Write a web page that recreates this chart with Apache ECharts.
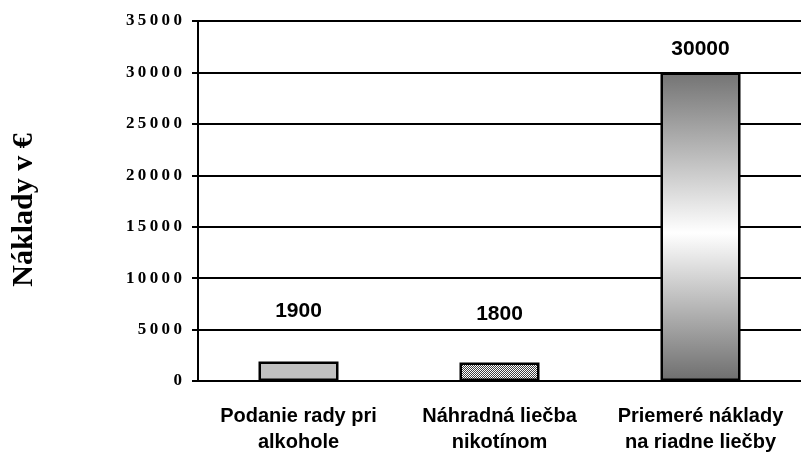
<!DOCTYPE html>
<html>
<head>
<meta charset="utf-8">
<script src="https://cdn.jsdelivr.net/npm/echarts@6/dist/echarts.min.js"></script>
<style>
  html, body { margin: 0; padding: 0; background: #fff; }
  #chart { width: 801px; height: 459px; }
</style>
</head>
<body>
<div id="chart"></div>
<script>
// data
var categories = ['Podanie rady pri\nalkohole', 'Náhradná liečba\nnikotínom', 'Priemeré náklady\nna riadne liečby'];
var costs = [1900, 1800, 30000];
var yTicks = [0, 5000, 10000, 15000, 20000, 25000, 30000, 35000];

// hatch fill for the second bar
function makeHatch() {
    var c = document.createElement('canvas');
    c.width = 4; c.height = 4;
    var ctx = c.getContext('2d');
    ctx.fillStyle = '#ffffff';
    ctx.fillRect(0, 0, 4, 4);
    ctx.fillStyle = '#404040';
    for (var i = 0; i < 4; i++) {
        ctx.fillRect(i, 3 - i, 1, 1);
        ctx.fillRect((i + 2) % 4, 3 - i, 1, 1);
    }
    return c;
}

var fills = [
    '#c0c0c0',
    { image: makeHatch(), repeat: 'repeat' },
    new echarts.graphic.LinearGradient(0, 0, 0, 1, [
        { offset: 0, color: '#737373' },
        { offset: 0.52, color: '#ffffff' },
        { offset: 1, color: '#6e6e6e' }
    ])
];
var labelGap = [40, 38, 13];

var barData = costs.map(function (v, i) {
    return {
        value: v,
        itemStyle: { color: fills[i] },
        label: { distance: labelGap[i] }
    };
});

var myChart = echarts.init(document.getElementById('chart'));
var option = {
    animation: false,
    grid: { left: 198, right: 0, top: 21, bottom: 78, containLabel: false, outerBoundsMode: 'none' },
    xAxis: {
        type: 'category',
        data: categories,
        axisLine: { lineStyle: { color: '#000', width: 2 } },
        axisTick: { show: false },
        axisLabel: {
            margin: 22,
            color: '#000',
            fontFamily: 'Liberation Sans, Arial, sans-serif',
            fontWeight: 'bold',
            fontSize: 20,
            lineHeight: 26,
            interval: 0
        }
    },
    yAxis: {
        type: 'value',
        min: yTicks[0],
        max: yTicks[yTicks.length - 1],
        interval: 5000,
        name: 'Náklady v €',
        nameLocation: 'middle',
        nameGap: 159,
        nameTextStyle: {
            color: '#000',
            fontFamily: 'Liberation Serif, Times New Roman, serif',
            fontWeight: 'bold',
            fontSize: 30,
            padding: [0, 0, 0, -18]
        },
        axisLine: { show: true, lineStyle: { color: '#000', width: 2 } },
        axisTick: { show: true, length: 6, lineStyle: { color: '#000', width: 2 } },
        splitLine: { lineStyle: { color: '#000', width: 2 } },
        axisLabel: {
            margin: 16,
            color: '#000',
            fontFamily: 'Liberation Serif, Times New Roman, serif',
            fontWeight: 'bold',
            fontSize: 17,
            formatter: function (v) {
                return String(v).split('').join('\u2009');
            }
        }
    },
    series: [{
        type: 'bar',
        data: barData,
        barWidth: 80,
        itemStyle: { borderColor: '#000', borderWidth: 2.5 },
        label: {
            show: true,
            position: 'top',
            color: '#000',
            fontFamily: 'Liberation Sans, Arial, sans-serif',
            fontWeight: 'bold',
            fontSize: 21
        }
    }]
};
myChart.setOption(option);
</script>
</body>
</html>
